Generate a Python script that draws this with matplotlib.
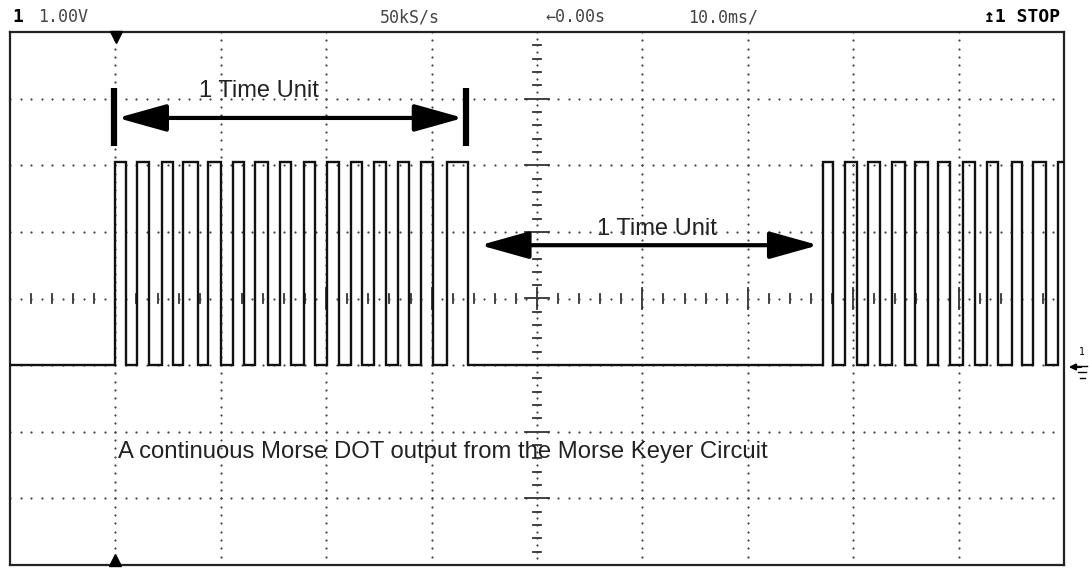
import matplotlib
matplotlib.use("Agg")
import matplotlib.pyplot as plt
import numpy as np
from matplotlib.patches import FancyArrowPatch
from matplotlib.lines import Line2D

# scope settings (1 V/div, 10 ms/div, 10 x 8 divisions)
ms_per_div = 10.0
volts_per_div = 1.0
ground_div = -1.0      # ground marker sits one division below centre
high_level = 3.05      # pulse top in volts

# edge times in ms from the left edge of the screen
burst1_rise = [9.96, 12.05, 14.42, 16.41, 18.79, 21.16, 23.24, 25.62,
               27.89, 30.08, 32.35, 34.54, 36.81, 39.0, 41.46]
burst1_fall = [11.0, 13.19, 15.46, 17.84, 20.02, 22.2, 24.48, 26.66,
               28.94, 31.21, 33.4, 35.67, 37.86, 40.13, 43.45]
burst2_rise = [77.13, 79.22, 81.4, 83.68, 85.86, 88.05, 90.42, 92.69,
               95.07, 97.06, 99.43]
burst2_fall = [78.08, 80.36, 82.54, 84.91, 87.1, 89.18, 91.56, 93.74,
               96.02, 98.29]

status_left = ["1", "1.00V"]
status_mid = ["50kS/s", "\u21900.00s", "10.0ms/"]
status_right = "\u21a51 STOP"
time_unit_label = "1 Time Unit"
caption = "A continuous Morse DOT output from the Morse Keyer Circuit"


def square_wave(rises, falls, t_end):
    t, v = [0.0], [0.0]
    for i, r in enumerate(rises):
        t += [r, r]
        v += [0.0, high_level]
        if i < len(falls):
            t += [falls[i], falls[i]]
            v += [high_level, 0.0]
    t.append(t_end)
    v.append(v[-1])
    return np.array(t), np.array(v)


t, v = square_wave(burst1_rise + burst2_rise, burst1_fall + burst2_fall, 100.0)
y = v / volts_per_div + ground_div

W, H = 1089, 568
fig = plt.figure(figsize=(W / 100, H / 100), dpi=100)
ax = fig.add_axes([10 / W, 3 / H, 1054 / W, 533 / H])
ax.set_xlim(0, 10 * ms_per_div)
ax.set_ylim(-4, 4)
ax.set_xticks([])
ax.set_yticks([])
for s in ax.spines.values():
    s.set_linewidth(1.6)
    s.set_color("#222222")

dot_col = "#444444"
# dotted graticule
for gx in range(1, 10):
    if gx == 5:
        continue
    ys = np.arange(-4, 4.001, 0.125)
    ax.scatter(np.full_like(ys, gx * ms_per_div), ys, s=2.5, color=dot_col,
               linewidths=0, zorder=1)
for gy in range(-3, 4):
    if gy == 0:
        continue
    xs = np.arange(0, 100.001, 1.0)
    ax.scatter(xs, np.full_like(xs, gy), s=2.5, color=dot_col,
               linewidths=0, zorder=1)

# centre axes with minor ticks
cx = 5 * ms_per_div
for yy in np.arange(-4, 4.001, 0.2):
    major = abs(yy - round(yy)) < 1e-6
    half = 1.1 if major else 0.4
    ax.plot([cx - half, cx + half], [yy, yy], color="#333333", lw=1.3, zorder=1)
ys = np.arange(-4, 4.001, 0.1)
ax.scatter(np.full_like(ys, cx), ys, s=2.5, color=dot_col, linewidths=0, zorder=1)
for xx in np.arange(0, 100.001, 2.0):
    major = abs(xx / 10 - round(xx / 10)) < 1e-6
    half = 0.16 if major else 0.07
    ax.plot([xx, xx], [-half, half], color="#333333", lw=1.3, zorder=1)
xs = np.arange(0, 100.001, 1.0)
ax.scatter(xs, np.zeros_like(xs), s=2.5, color=dot_col, linewidths=0, zorder=1)

# trace
ax.plot(t, y, color="#111111", lw=1.7, zorder=3, solid_joinstyle="miter")

# trigger position markers
ax.plot([10.1], [3.93], marker="v", ms=8, color="black", clip_on=False, zorder=5)
ax.plot([10.0], [-3.93], marker="^", ms=8, color="black", clip_on=False, zorder=5)

# "1 Time Unit" annotations
def span_arrow(x0, x1, yy):
    arr = FancyArrowPatch((x0, yy), (x1, yy),
                          arrowstyle="<|-|>,head_length=1.5,head_width=0.42",
                          mutation_scale=20, lw=3, color="black", zorder=6,
                          shrinkA=0, shrinkB=0)
    ax.add_patch(arr)

ax.plot([9.9, 9.9], [2.29, 3.16], color="black", lw=4.5, solid_capstyle="butt", zorder=6)
ax.plot([43.3, 43.3], [2.29, 3.16], color="black", lw=4.5, solid_capstyle="butt", zorder=6)
span_arrow(10.2, 43.0, 2.71)
ax.text(23.6, 3.12, time_unit_label, ha="center", va="center", fontsize=17,
        family="Liberation Sans", color="#222222", zorder=7)

span_arrow(44.6, 76.7, 0.80)
ax.text(61.4, 1.04, time_unit_label, ha="center", va="center", fontsize=17,
        family="Liberation Sans", color="#222222", zorder=7)

ax.text(10.2, -2.30, caption, ha="left", va="center", fontsize=17.2,
        family="Liberation Sans", color="#222222", zorder=7)

# status line
ty = 1 - 17 / H
mono = "DejaVu Sans Mono"
fig.text(12 / W, ty, status_left[0], fontsize=13, weight="bold", family=mono, va="center")
fig.text(38 / W, ty, status_left[1], fontsize=12, family=mono, va="center", color="#444444")
fig.text(380 / W, ty, status_mid[0], fontsize=12, family=mono, va="center", color="#444444")
fig.text(545 / W, ty, status_mid[1], fontsize=12, family=mono, va="center", color="#444444")
fig.text(688 / W, ty, status_mid[2], fontsize=12, family=mono, va="center", color="#444444")
fig.text(1060 / W, ty, status_right, fontsize=13, weight="bold", family=mono,
         va="center", ha="right")

# ground marker on the right edge: "1", arrow and ground symbol
fig.text(1082 / W, 1 - 352 / H, "1", fontsize=7, family=mono, va="center", ha="center")
fig.add_artist(FancyArrowPatch((1084 / W, 1 - 367 / H), (1066 / W, 1 - 367 / H),
                               transform=fig.transFigure, arrowstyle="-|>",
                               mutation_scale=9, lw=1.5, color="black"))
for dy, half in [(362, 5), (368, 4), (374, 2.5)]:
    fig.add_artist(Line2D([(1082 - half) / W, (1082 + half) / W],
                          [1 - (dy + 4) / H, 1 - (dy + 4) / H],
                          transform=fig.transFigure, lw=1.0, color="black"))

fig.savefig("out.png", dpi=100, facecolor="white")
